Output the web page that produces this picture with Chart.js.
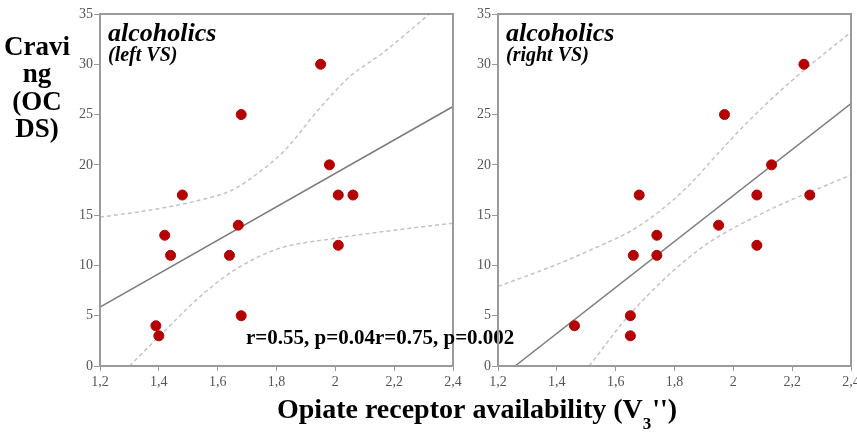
<!DOCTYPE html>
<html>
<head>
<meta charset="utf-8">
<script src="https://cdn.jsdelivr.net/npm/chart.js@4"></script>
<style>
body{margin:0;background:#fff;}
#wrap{position:relative;width:857px;height:432px;}
canvas{position:absolute;left:0;top:0;}
</style>
</head>
<body>
<div id="wrap">
<canvas id="leftChart" width="857" height="432"></canvas>
<canvas id="rightChart" width="857" height="432"></canvas>
</div>
<script>
'use strict';
const xTicks = [1.2, 1.4, 1.6, 1.8, 2, 2.2, 2.4];
const xTickLabels = ['1,2', '1,4', '1,6', '1,8', '2', '2,2', '2,4'];
const yTicks = [0, 5, 10, 15, 20, 25, 30, 35];

// left VS
const leftX = [1.95, 1.68, 1.98, 1.48, 2.01, 2.06, 1.67, 1.42, 1.44, 1.64, 2.01, 1.68, 1.39, 1.40];
const leftY = [30, 25, 20, 17, 17, 17, 14, 13, 11, 11, 12, 5, 4, 3];
const leftFitX = [1.2, 2.4];
const leftFitY = [5.85, 25.8];
const leftUpperX = [1.2, 1.37, 1.54, 1.65, 1.72, 1.83, 1.94, 2.05, 2.16, 2.32];
const leftUpperY = [14.8, 15.5, 16.5, 17.5, 18.8, 21.5, 25.4, 28.8, 31.1, 35];
const leftLowerX = [1.30, 1.40, 1.54, 1.65, 1.80, 2.0, 2.2, 2.4];
const leftLowerY = [0, 2.9, 6.9, 9.4, 11.6, 12.7, 13.5, 14.2];

// right VS
const rightX = [2.24, 1.97, 2.13, 1.68, 2.08, 2.26, 1.95, 1.74, 1.66, 1.74, 2.08, 1.65, 1.65, 1.46];
const rightY = [30, 25, 20, 17, 17, 17, 14, 13, 11, 11, 12, 5, 3, 4];
const rightFitX = [1.258, 2.4];
const rightFitY = [0, 26.1];
const rightUpperX = [1.2, 1.4, 1.55, 1.65, 1.75, 1.85, 1.95, 2.05, 2.2, 2.4];
const rightUpperY = [7.9, 10.1, 12.0, 13.4, 15.4, 18.0, 21.2, 24.3, 28.4, 33.2];
const rightLowerX = [1.51, 1.65, 1.88, 2.1, 2.4];
const rightLowerY = [0, 5.2, 11.5, 15.2, 19.0];

const statsText = 'r=0.55, p=0.04r=0.75, p=0.002';
const yTitle = ['Cravi', 'ng', '(OC', 'DS)'];

const serif = '"Liberation Serif", "DejaVu Serif", serif';

function pts(xs, ys) {
  return xs.map((x, i) => ({x: x, y: ys[i]}));
}

const panelText = {
  id: 'panelText',
  afterDraw(chart, args, opts) {
    const ctx = chart.ctx;
    const a = chart.chartArea;
    ctx.save();
    ctx.strokeStyle = '#9a9a9a';
    ctx.lineWidth = 2;
    ctx.strokeRect(a.left, a.top, a.right - a.left, a.bottom - a.top);
    ctx.fillStyle = '#000';
    ctx.textAlign = 'left';
    ctx.textBaseline = 'alphabetic';
    ctx.font = 'italic bold 26px ' + serif;
    ctx.fillText('alcoholics', a.left + 8, 41);
    ctx.font = 'italic bold 20px ' + serif;
    ctx.fillText(opts.sub, a.left + 8, 61);
    if (opts.extra) {
      // y axis title, x axis title and stats
      ctx.font = 'bold 27px ' + serif;
      ctx.textAlign = 'center';
      const base = [55, 82, 110, 137];
      yTitle.forEach((t, i) => ctx.fillText(t, 37, base[i]));
      ctx.textAlign = 'left';
      ctx.font = 'bold 21px ' + serif;
      ctx.fillText(statsText, 246, 344);
      ctx.font = 'bold 28px ' + serif;
      let x = 277;
      const t1 = 'Opiate receptor availability (V';
      ctx.fillText(t1, x, 418);
      x += ctx.measureText(t1).width;
      ctx.font = 'bold 17px ' + serif;
      ctx.fillText('3', x, 429);
      x += ctx.measureText('3').width;
      ctx.font = 'bold 28px ' + serif;
      ctx.fillText("'')", x + 1, 418);
    }
    ctx.restore();
  }
};

function makePanel(id, data, padLeft, padRight, yWidth, sub, extra) {
  const ctx = document.getElementById(id).getContext('2d');
  return new Chart(ctx, {
    type: 'scatter',
    data: {
      datasets: [{
        data: pts(data.x, data.y),
        backgroundColor: '#b40000',
        borderColor: '#b40000',
        pointRadius: 5,
        order: 0
      },
      {
        data: pts(data.fitX, data.fitY),
        showLine: true,
        pointRadius: 0,
        borderColor: '#7c7c7c',
        borderWidth: 1.5,
        order: 1
      },
      {
        data: pts(data.upX, data.upY),
        showLine: true,
        pointRadius: 0,
        borderColor: '#c4c4c4',
        borderWidth: 1.5,
        borderDash: [4, 3],
        cubicInterpolationMode: 'monotone',
        order: 2
      },
      {
        data: pts(data.loX, data.loY),
        showLine: true,
        pointRadius: 0,
        borderColor: '#c4c4c4',
        borderWidth: 1.5,
        borderDash: [4, 3],
        cubicInterpolationMode: 'monotone',
        order: 2
      }]
    },
    options: {
      responsive: false,
      animation: false,
      layout: {padding: {left: padLeft, right: padRight, top: 14, bottom: 0}},
      plugins: {
        legend: {display: false},
        tooltip: {enabled: false},
        panelText: {sub: sub, extra: extra}
      },
      scales: {
        x: {
          type: 'linear',
          min: 1.2,
          max: 2.4,
          afterBuildTicks: (s) => { s.ticks = xTicks.map(v => ({value: v})); },
          afterFit: (s) => { s.height = 66; s.paddingLeft = 0; s.paddingRight = 0; },
          ticks: {
            callback: (v) => xTickLabels[xTicks.indexOf(v)],
            color: '#555',
            font: {family: serif, size: 14},
            padding: 3,
            maxRotation: 0
          },
          grid: {display: true, drawOnChartArea: false, tickLength: 5, color: '#999'},
          border: {display: true, color: '#9a9a9a', width: 2}
        },
        y: {
          min: 0,
          max: 35,
          afterBuildTicks: (s) => { s.ticks = yTicks.map(v => ({value: v})); },
          afterFit: (s) => { s.width = yWidth; s.paddingTop = 0; s.paddingBottom = 0; },
          ticks: {
            color: '#555',
            font: {family: serif, size: 14},
            padding: 1
          },
          grid: {display: true, drawOnChartArea: false, tickLength: 6, color: '#999'},
          border: {display: true, color: '#9a9a9a', width: 2}
        }
      }
    },
    plugins: [panelText]
  });
}

makePanel('leftChart', {
  x: leftX, y: leftY, fitX: leftFitX, fitY: leftFitY,
  upX: leftUpperX, upY: leftUpperY, loX: leftLowerX, loY: leftLowerY
}, 0, 404, 100, '(left VS)', true);

makePanel('rightChart', {
  x: rightX, y: rightY, fitX: rightFitX, fitY: rightFitY,
  upX: rightUpperX, upY: rightUpperY, loX: rightLowerX, loY: rightLowerY
}, 470, 6, 28, '(right VS)', false);
</script>
</body>
</html>
